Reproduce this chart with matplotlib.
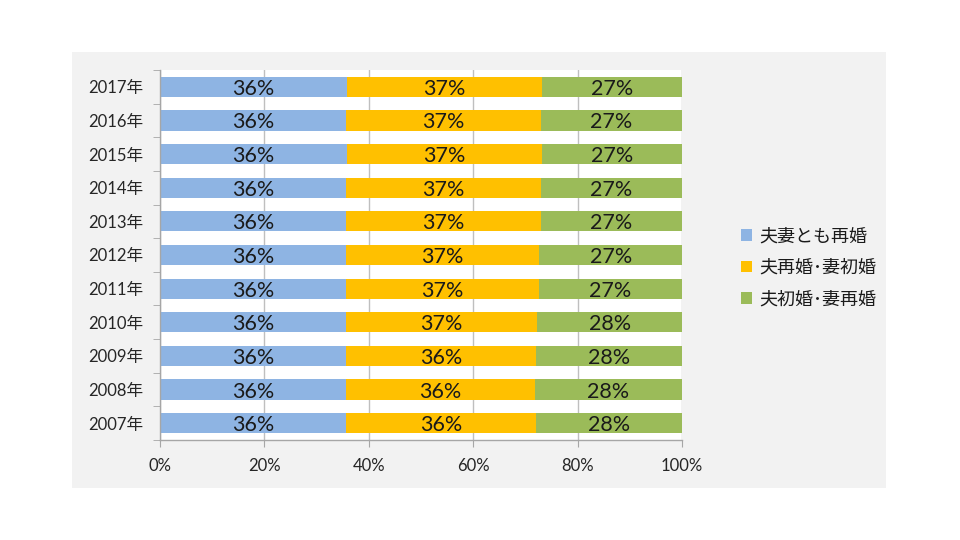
import matplotlib
matplotlib.use("Agg")
import matplotlib.pyplot as plt
from matplotlib.patches import Rectangle

plt.rcParams['font.family'] = ['Noto Sans CJK JP', 'DejaVu Sans']
NUMFONT = ['Lato', 'Noto Sans CJK JP', 'DejaVu Sans']

years = ["2007年", "2008年", "2009年", "2010年", "2011年", "2012年",
         "2013年", "2014年", "2015年", "2016年", "2017年"]
both_remarried = [35.6, 35.6, 35.7, 35.6, 35.7, 35.6, 35.6, 35.7, 35.9, 35.7, 35.9]
husband_remarried = [36.5, 36.2, 36.4, 36.7, 36.9, 37.1, 37.3, 37.3, 37.2, 37.3, 37.2]
wife_remarried = [27.9, 28.2, 27.9, 27.7, 27.4, 27.3, 27.1, 27.0, 26.9, 27.0, 26.9]
series_names = ["夫妻とも再婚", "夫再婚･妻初婚", "夫初婚･妻再婚"]
colors = ["#8EB4E3", "#FFC000", "#9BBB59"]
xticks = [0, 20, 40, 60, 80, 100]
xtick_labels = ["0%", "20%", "40%", "60%", "80%", "100%"]

W, H = 960, 540
fig = plt.figure(figsize=(W / 100, H / 100), dpi=100)
fig.patch.set_facecolor("white")
fig.patches.append(Rectangle((72 / W, 1 - 488 / H), (886 - 72) / W, (488 - 52) / H,
                             transform=fig.transFigure, facecolor="#F2F2F2",
                             edgecolor="none", zorder=0))

ax = fig.add_axes([160 / W, 1 - 440 / H, (682 - 160) / W, (440 - 70) / H])
ax.set_facecolor("white")
ax.set_zorder(1)

ypos = list(range(len(years)))
lefts = [0] * len(years)
series = [both_remarried, husband_remarried, wife_remarried]
for vals, name, col in zip(series, series_names, colors):
    ax.barh(ypos, vals, left=lefts, height=0.6, color=col, label=name, zorder=2)
    for y, v, l in zip(ypos, vals, lefts):
        ax.text(l + v / 2, y, f"{round(v):d}%", ha="center", va="center_baseline",
                fontsize=15.5, color="#1a1a1a", family=NUMFONT, zorder=3)
    lefts = [a + b for a, b in zip(lefts, vals)]

ax.set_xlim(0, 100)
ax.set_ylim(-0.5, len(years) - 0.5)
ax.set_xticks(xticks)
ax.set_xticklabels(xtick_labels, fontsize=12, color="#262626", family=NUMFONT)
ax.set_yticks(ypos)
ax.set_yticklabels(years, fontsize=12, color="#262626", family=NUMFONT)
ax.tick_params(axis="y", length=0, pad=12)
ax.tick_params(axis="x", length=5, color="#A6A6A6", direction="out", pad=8)
ax.set_yticks([i - 0.5 for i in range(len(years) + 1)], minor=True)
ax.tick_params(axis="y", which="minor", length=5, color="#A6A6A6", direction="out")

ax.grid(axis="x", color="#BFBFBF", linewidth=1, zorder=1)
ax.set_axisbelow(True)
for s in ["top", "right"]:
    ax.spines[s].set_visible(False)
for s in ["left", "bottom"]:
    ax.spines[s].set_color("#A6A6A6")
    ax.spines[s].set_linewidth(1)

leg = fig.legend(loc="upper left", bbox_to_anchor=(725 / W, 1 - 211 / H),
                 frameon=False, fontsize=13, handlelength=0.6, handleheight=0.6,
                 handletextpad=0.4, labelspacing=0.75)
for t in leg.get_texts():
    t.set_color("#1a1a1a")

fig.savefig("out.png", dpi=100)
